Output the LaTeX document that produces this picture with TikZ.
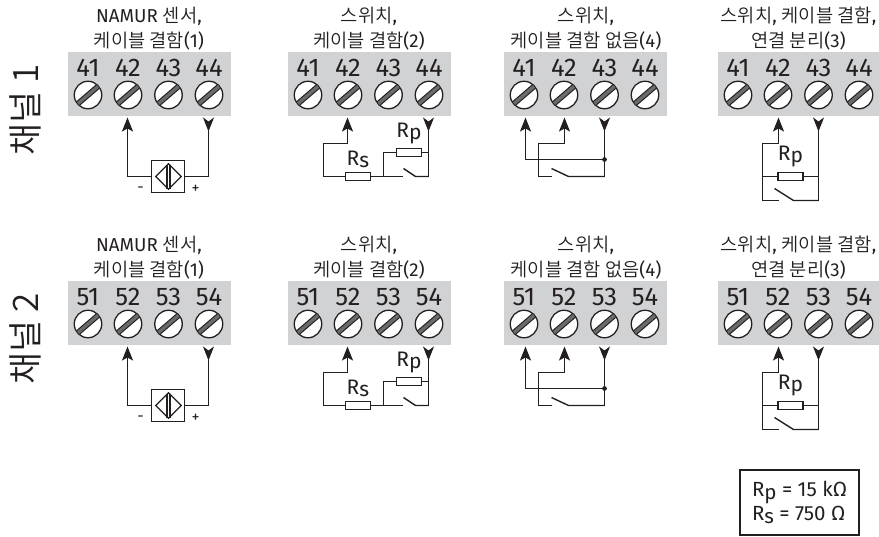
\documentclass[tikz,border=0pt]{standalone}
\usepackage{fontspec}
\setmainfont{Fira Sans}
\newfontfamily\kr{Noto Sans CJK KR DemiLight}
\usetikzlibrary{arrows.meta,shapes.geometric}
\definecolor{panelgray}{HTML}{D1D2D4}
\definecolor{slotgray}{HTML}{6A6A6A}
\definecolor{inkc}{HTML}{231F20}
\tikzset{
  panelbox/.style={fill=panelgray,draw=none,anchor=north west,inner sep=0,minimum width=163pt,minimum height=64pt},
  screwhead/.style={circle,draw=inkc,fill=white,line width=1.3pt,minimum size=27.5pt,inner sep=0},
  termno/.style={text=inkc,font=\fontsize{25.5}{25}\selectfont,inner sep=0},
  titletext/.style={text=inkc,font=\fontsize{18.7}{24.5}\selectfont,align=center,inner sep=0},
  wire/.style={draw=inkc,line width=1.4pt,line join=miter},
  upin/.style={wire,-{Stealth[length=14pt,width=11pt,inset=3pt]}},
  downin/.style={wire,-{Stealth[length=14pt,width=11pt,inset=4pt,reversed]}},
  resistor/.style={rectangle,draw=inkc,fill=white,line width=1.4pt,inner sep=0,minimum width=25pt,minimum height=8.5pt},
  reslabel/.style={text=inkc,font=\fontsize{21}{21}\selectfont,inner sep=0},
  pol/.style={text=inkc,font=\fontsize{16}{16}\selectfont,inner sep=0},
  sensorbox/.style={rectangle,draw=inkc,fill=white,line width=1.4pt,inner sep=0,minimum width=32.5pt,minimum height=32pt},
  channel/.style={text=inkc,rotate=90,font=\kr\fontsize{35}{35}\selectfont,inner sep=0},
}
\newcommand{\Rp}{R\raisebox{-2.5pt}{p}}
\newcommand{\Rs}{R\raisebox{-2.5pt}{s}}
\newcommand{\panel}[3]{% prefix, left x, tens digit
  \node[panelbox] (#1p) at (#2,52) {};
  \foreach \n/\off in {1/20,2/60,3/100.5,4/141}{
    \node[termno] (#1t\n) at ({#2+\off},68) {#3\n};
    \node[screwhead] (#1s\n) at ({#2+\off},95) {};
    \begin{scope}
      \clip ({#2+\off},95) circle (13.3);
      \draw[inkc,line width=5.6pt] ({#2+\off-14},107) -- ({#2+\off+14},83);
      \draw[slotgray,line width=3.4pt] ({#2+\off-14},107) -- ({#2+\off+14},83);
    \end{scope}
  }
}
\newcommand{\circA}[1]{% NAMUR
  \coordinate (#1a) at (127,117); \coordinate (#1b) at (208,117);
  \node[sensorbox] (#1sen) at (167.5,176) {};
  \node[diamond,draw=inkc,line width=1.2pt,inner sep=0,minimum width=26pt,minimum height=26pt] (#1dia) at (168,176) {};
  \coordinate (#1c) at (127,176); \coordinate (#1d) at (208,176);
  \draw[upin] (#1sen.west) -- (#1c) -- (#1a);
  \draw[downin] (#1sen.east) -- (#1d) -- (#1b);
  \draw[draw=inkc,line width=1.2pt] (166.5,164) -- (166.5,188) (169.5,164) -- (169.5,188);
  \node[pol] (#1m) at (140,189) {-};
  \node[pol] (#1pl) at (195,189) {+};
}
\newcommand{\circB}[1]{% switch, Rs, Rp
  \coordinate (#1a) at (347,117); \coordinate (#1b) at (428,117);
  \coordinate (#1e) at (347,143); \coordinate (#1f) at (323,143); \coordinate (#1g) at (323,176);
  \node[resistor] (#1rs) at (357.5,176) {};
  \node[resistor] (#1rp) at (408.5,152) {};
  \coordinate (#1j) at (383,176); \coordinate (#1k) at (383,152);
  \coordinate (#1l) at (402,176); \coordinate (#1m) at (403,168); \coordinate (#1n) at (415,176);
  \coordinate (#1o) at (428,176); \coordinate (#1q) at (428,152);
  \draw[upin] (#1rs.west) -- (#1g) -- (#1f) -- (#1e) -- (#1a);
  \draw[wire] (#1rs.east) -- (#1l);
  \draw[wire] (#1j) -- (#1k) -- (#1rp.west);
  \draw[wire] (#1rp.east) -- (#1q);
  \draw[wire] (#1m) -- (#1n) -- (#1o);
  \draw[downin] (#1o) -- (#1b);
  \node[reslabel] (#1ls) at (357.5,159) {\Rs};
  \node[reslabel] (#1lp) at (408.5,133) {\Rp};
}
\newcommand{\circC}[1]{% switch, no cable
  \coordinate (#1a) at (525,117); \coordinate (#1b) at (564,117); \coordinate (#1c) at (604,117);
  \coordinate (#1d) at (525,159); \coordinate (#1j) at (604,159);
  \coordinate (#1e) at (564,143); \coordinate (#1f) at (538,143); \coordinate (#1g) at (538,176);
  \coordinate (#1h) at (551,176); \coordinate (#1m) at (551,168); \coordinate (#1n) at (568,176); \coordinate (#1o) at (604,176);
  \draw[upin] (#1j) -- (#1d) -- (#1a);
  \draw[upin] (#1h) -- (#1g) -- (#1f) -- (#1e) -- (#1b);
  \draw[wire] (#1m) -- (#1n) -- (#1o);
  \draw[downin] (#1o) -- (#1c);
  \fill[inkc] (#1j) circle (2.4);
}
\newcommand{\circD}[1]{% Rp parallel
  \coordinate (#1a) at (778,117); \coordinate (#1b) at (818,117);
  \coordinate (#1e) at (778,143); \coordinate (#1f) at (762,143); \coordinate (#1g) at (762,176);
  \coordinate (#1h) at (762,200); \coordinate (#1i) at (778,200);
  \coordinate (#1m) at (774,188); \coordinate (#1n) at (793,200); \coordinate (#1o) at (818,200); \coordinate (#1q) at (818,176);
  \node[resistor] (#1rp) at (790,176) {};
  \draw[upin] (#1i) -- (#1h) -- (#1f) -- (#1e) -- (#1a);
  \draw[wire] (#1g) -- (#1rp.west);
  \draw[wire] (#1rp.east) -- (#1q);
  \draw[wire] (#1m) -- (#1n) -- (#1o);
  \draw[downin] (#1o) -- (#1b);
  \node[reslabel] (#1lp) at (790,156) {\Rp};
}
\newcommand{\rowall}[3]{% prefix, tens digit, channel no
  \node[channel] (#1ch) at (25,110) {채널 #3};
  \node[titletext] (#1h1) at (149,28.5) {NAMUR {\kr 센서},\\{\kr 케이블 결함}(1)};
  \node[titletext] (#1h2) at (369,28.5) {{\kr 스위치},\\{\kr 케이블 결함}(2)};
  \node[titletext] (#1h3) at (586,28.5) {{\kr 스위치},\\{\kr 케이블 결함 없음}(4)};
  \node[titletext] (#1h4) at (798.5,28.5) {{\kr 스위치}, {\kr 케이블 결함},\\{\kr 연결 분리}(3)};
  \panel{#1A}{68}{#2}\panel{#1B}{288}{#2}\panel{#1C}{504}{#2}\panel{#1D}{718}{#2}
  \begin{scope}[shift={(0.5,0.5)}]
  \circA{#1a}\circB{#1b}\circC{#1c}\circD{#1d}
  \end{scope}
}
\begin{document}
\begin{tikzpicture}[x=1pt,y=-1pt]
\useasboundingbox (0,0) rectangle (879,536);
\begin{scope}\rowall{u}{4}{1}\end{scope}
\begin{scope}[shift={(0,229)}]\rowall{v}{5}{2}\end{scope}
\node[rectangle,draw=inkc,line width=1.3pt,text=inkc,minimum width=119pt,minimum height=65pt,inner sep=0,align=left,font=\fontsize{20.5}{24}\selectfont] (legend) at (799.5,502.5) {\Rp{} = 15 kΩ\\\Rs{} = 750 Ω};
\end{tikzpicture}
\end{document}
